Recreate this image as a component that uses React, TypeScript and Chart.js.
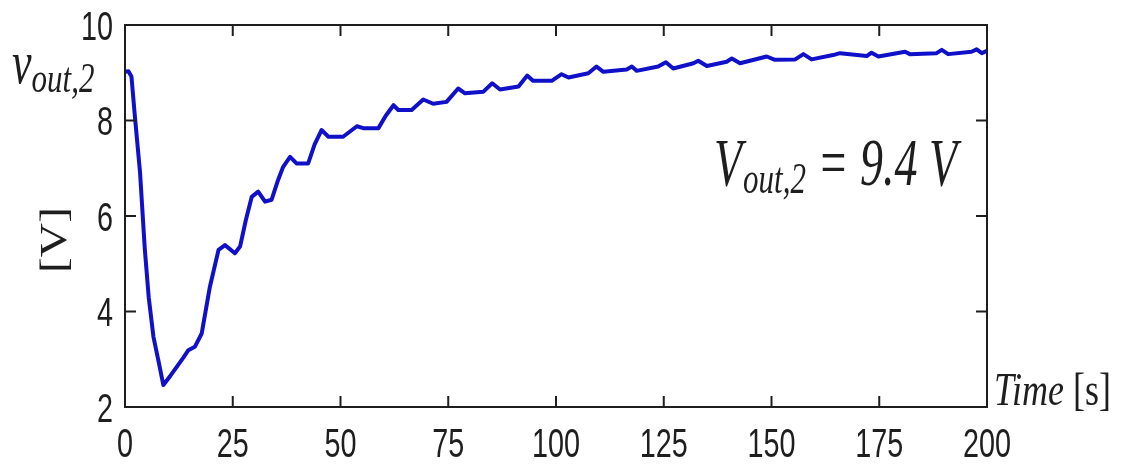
import React, { useEffect, useRef } from "react";
import { Chart, registerables } from "chart.js";

Chart.register(...registerables);

const timeSeconds = [
  0, 0.8, 1.5, 2.3, 3.5, 4.6, 5.5, 6.6, 7.8, 8.9,
  10.5, 12.0, 13.5, 14.7, 16.2, 17.8, 19.7, 21.7, 23.2, 25.5,
  26.7, 28.0, 29.4, 30.9, 32.5, 34.0, 35.5, 36.7, 38.3, 39.8,
  42.5, 44.0, 45.6, 47.2, 50.6, 53.8, 55.3, 58.8, 60.5, 62.3,
  63.4, 66.5, 69.2, 71.5, 74.6, 77.3, 78.9, 83.1, 85.2, 87.0,
  91.3, 93.3, 94.7, 99.0, 101.3, 102.9, 107.5, 109.4, 111.0, 116.4,
  117.6, 118.7, 123.7, 125.5, 127.2, 131.9, 133.0, 135.0, 139.6, 140.8,
  142.7, 148.9, 150.8, 155.5, 157.4, 159.3, 164.3, 165.9, 172.1, 173.2,
  174.8, 181.0, 182.1, 188.3, 189.5, 191.0, 196.4, 197.6, 198.8, 200,
];

const voutValues = [
  9.02, 9.03, 8.92, 8.08, 6.9, 5.3, 4.3, 3.47, 2.95, 2.46,
  2.65, 2.84, 3.03, 3.19, 3.26, 3.54, 4.52, 5.29, 5.39, 5.22,
  5.36, 5.9, 6.4, 6.51, 6.3, 6.34, 6.75, 7.03, 7.24, 7.1,
  7.1, 7.5, 7.8, 7.66, 7.66, 7.88, 7.84, 7.84, 8.1, 8.32,
  8.22, 8.22, 8.44, 8.35, 8.39, 8.67, 8.57, 8.6, 8.78, 8.65,
  8.71, 8.94, 8.83, 8.83, 8.97, 8.9, 8.99, 9.13, 9.02, 9.07,
  9.13, 9.04, 9.13, 9.22, 9.09, 9.2, 9.25, 9.14, 9.23, 9.3,
  9.2, 9.34, 9.27, 9.28, 9.39, 9.28, 9.37, 9.41, 9.35, 9.42,
  9.34, 9.44, 9.39, 9.41, 9.48, 9.39, 9.44, 9.49, 9.41, 9.46,
];

const xTickValues = [0, 25, 50, 75, 100, 125, 150, 175, 200];
const yTickValues = [2, 4, 6, 8, 10];

const annotationMain = "V";
const annotationSub = "out,2";
const annotationRest = " = 9.4 V";
const yLabelMain = "v";
const yLabelSub = "out,2";
const yUnitLabel = "[V]";
const xLabelItalic = "Time";
const xLabelUnit = " [s]";

const SANS = '"Liberation Sans", Arial, "DejaVu Sans", sans-serif';
const SERIF = '"Liberation Serif", "Times New Roman", "DejaVu Serif", serif';
const INK = "#1e1e1e";
const TICK_FONT = `40px ${SANS}`;
const TICK_SX = 0.72;

function drawScaled(
  ctx: CanvasRenderingContext2D,
  text: string,
  x: number,
  y: number,
  font: string,
  sx: number,
  sy: number
) {
  ctx.save();
  ctx.translate(x, y);
  ctx.scale(sx, sy);
  ctx.font = font;
  ctx.fillText(text, 0, 0);
  ctx.restore();
  ctx.font = font;
  return ctx.measureText(text).width * sx;
}

const framePlugin = {
  id: "framePlugin",
  afterDatasetsDraw(chart: any) {
    const { ctx, chartArea } = chart;
    const xs = chart.scales.x;
    const ys = chart.scales.y;
    const { left, right, top, bottom } = chartArea;
    ctx.save();
    ctx.strokeStyle = INK;
    ctx.lineWidth = 2;
    ctx.strokeRect(left, top, right - left, bottom - top);
    const tl = 11;
    ctx.beginPath();
    xs.ticks.forEach((t: any) => {
      const px = xs.getPixelForValue(t.value);
      ctx.moveTo(px, bottom);
      ctx.lineTo(px, bottom - tl);
      ctx.moveTo(px, top);
      ctx.lineTo(px, top + tl);
    });
    ys.ticks.forEach((t: any) => {
      const py = ys.getPixelForValue(t.value);
      ctx.moveTo(left, py);
      ctx.lineTo(left + tl, py);
      ctx.moveTo(right, py);
      ctx.lineTo(right - tl, py);
    });
    ctx.stroke();

    ctx.fillStyle = INK;

    // tick labels, positioned by the scales, in a narrowed sans face
    ctx.textBaseline = "alphabetic";
    xs.ticks.forEach((t: any) => {
      const px = xs.getPixelForValue(t.value);
      const label = String(t.label ?? t.value);
      ctx.font = TICK_FONT;
      const w = ctx.measureText(label).width * TICK_SX;
      drawScaled(ctx, label, px - w / 2, bottom + 50, TICK_FONT, TICK_SX, 1);
    });
    ys.ticks.forEach((t: any) => {
      const py = ys.getPixelForValue(t.value);
      const label = String(t.label ?? t.value);
      ctx.font = TICK_FONT;
      const w = ctx.measureText(label).width * TICK_SX;
      drawScaled(ctx, label, left - 12 - w, py + 14.5, TICK_FONT, TICK_SX, 1);
    });

    ctx.textAlign = "left";

    // annotation V_out,2 = 9.4 V
    let ax = 714;
    const ay = 185;
    ax += drawScaled(ctx, annotationMain, ax, ay, `italic 46px ${SERIF}`, 1, 1.45);
    ax += 1;
    const sw = drawScaled(ctx, annotationSub, ax, ay + 8, `italic 31px ${SERIF}`, 1, 1.45);
    ax += sw;
    drawScaled(ctx, annotationRest, ax, ay, `italic 46px ${SERIF}`, 1, 1.45);

    // y label v_out,2
    let lx = 12;
    lx += drawScaled(ctx, yLabelMain, lx, 83, `italic 44px ${SERIF}`, 1, 1.37);
    drawScaled(ctx, yLabelSub, lx, 92, `italic 31px ${SERIF}`, 1, 1.37);

    // [V] rotated
    ctx.save();
    ctx.translate(66, 240);
    ctx.rotate(-Math.PI / 2);
    ctx.textAlign = "center";
    ctx.scale(1.25, 1);
    ctx.font = `38px ${SERIF}`;
    ctx.fillText(yUnitLabel, 0, 0);
    ctx.restore();

    // Time [s]
    let tx = 994;
    tx += drawScaled(ctx, xLabelItalic, tx, 405, `italic 36px ${SERIF}`, 1, 1.3);
    drawScaled(ctx, xLabelUnit, tx, 405, `36px ${SERIF}`, 1, 1.3);
    ctx.restore();
  },
};

export default function App() {
  const canvasRef = useRef<HTMLCanvasElement | null>(null);

  useEffect(() => {
    document.body.style.margin = "0";
    const canvas = canvasRef.current;
    if (!canvas) return;
    const points = timeSeconds.map((t, i) => ({ x: t, y: voutValues[i] }));
    const chart = new Chart(canvas, {
      type: "line",
      data: {
        datasets: [
          {
            data: points,
            borderColor: "rgb(16,16,200)",
            borderWidth: 4,
            borderJoinStyle: "round",
            borderCapStyle: "round",
            pointRadius: 0,
            tension: 0,
            fill: false,
          },
        ],
      },
      options: {
        animation: false,
        responsive: false,
        maintainAspectRatio: false,
        layout: { padding: { top: 25, right: 143, left: 0, bottom: 0 } },
        plugins: {
          legend: { display: false },
          tooltip: { enabled: false },
        },
        scales: {
          x: {
            type: "linear",
            min: 0,
            max: 200,
            afterFit: (s: any) => {
              s.height = 58;
            },
            afterBuildTicks: (s: any) => {
              s.ticks = xTickValues.map((v) => ({ value: v }));
            },
            grid: { display: false, drawTicks: false },
            border: { display: false },
            ticks: { display: false, autoSkip: false, maxRotation: 0 },
          },
          y: {
            type: "linear",
            min: 2,
            max: 10,
            afterFit: (s: any) => {
              s.width = 125;
            },
            afterBuildTicks: (s: any) => {
              s.ticks = yTickValues.map((v) => ({ value: v }));
            },
            grid: { display: false, drawTicks: false },
            border: { display: false },
            ticks: { display: false, autoSkip: false },
          },
        },
      },
      plugins: [framePlugin],
    });
    return () => chart.destroy();
  }, []);

  return (
    <div style={{ position: "fixed", left: 0, top: 0, width: 1130, height: 465, background: "#fff" }}>
      <canvas ref={canvasRef} width={1130} height={465} style={{ width: 1130, height: 465 }} />
    </div>
  );
}
